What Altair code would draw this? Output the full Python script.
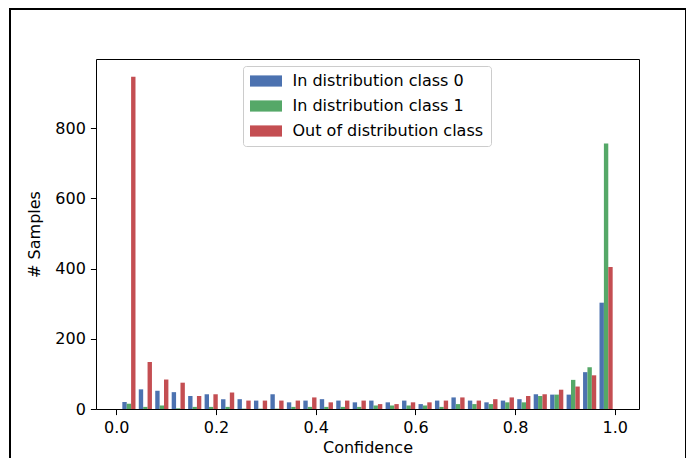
import altair as alt
import pandas as pd

# ---- data ----
series = ["In distribution class 0", "In distribution class 1", "Out of distribution class"]
colors = ["#4C72B0", "#55A868", "#C44E52"]
bin_lo, bin_hi, n_bins = 0.009, 0.999, 30

class0 = [20, 56, 52, 48, 37, 42, 28, 28, 24, 42, 19, 24, 28, 24, 19,
          24, 19, 24, 14, 24, 33, 24, 19, 24, 28, 42, 41, 41, 105, 303]
class1 = [15, 6, 10, 2, 6, 6, 6, 1, 1, 1, 6, 6, 6, 6, 6,
          10, 10, 10, 10, 6, 14, 14, 14, 19, 19, 37, 41, 83, 119, 757]
ood = [947, 134, 84, 75, 37, 42, 47, 24, 24, 24, 24, 33, 19, 24, 24,
       14, 14, 19, 19, 24, 33, 24, 28, 33, 37, 42, 55, 64, 96, 405]

x_ticks = [0.0, 0.2, 0.4, 0.6, 0.8, 1.0]
y_ticks = [0, 200, 400, 600, 800]

# ---- build grouped-histogram table (matplotlib style: 80% of bin, split in 3) ----
w = (bin_hi - bin_lo) / n_bins
bw = 0.8 * w / 3
rows = []
for s, (name, counts) in enumerate(zip(series, [class0, class1, ood])):
    for i, c in enumerate(counts):
        x0 = bin_lo + i * w + 0.1 * w + s * bw
        rows.append({"series": name, "x0": x0, "x1": x0 + bw, "count": c, "base": 0})
df = pd.DataFrame(rows)

FONT = "DejaVu Sans"

bars = alt.Chart(df).mark_bar().encode(
    x=alt.X("x0:Q",
            scale=alt.Scale(domain=[-0.0405, 1.0485], nice=False, zero=False),
            axis=alt.Axis(values=x_ticks, format=".1f", title="Confidence",
                          titlePadding=4)),
    x2="x1:Q",
    y=alt.Y("count:Q",
            scale=alt.Scale(domain=[0, 997.5], nice=False),
            axis=alt.Axis(values=y_ticks, title="# Samples", titlePadding=12)),
    y2="base:Q",
    color=alt.Color("series:N",
                    scale=alt.Scale(domain=series, range=colors),
                    legend=alt.Legend(
                        title=None, orient="none", legendX=147, legendY=7,
                        padding=7, symbolType="M-2,-0.7H2V0.7H-2Z",
                        symbolSize=256, symbolStrokeWidth=0, symbolOffset=8,
                        labelOffset=18.5, labelFontSize=16, labelFont=FONT,
                        labelColor="black", labelLimit=400, rowPadding=9,
                        strokeColor="#cccccc", fillColor="white",
                        cornerRadius=3)),
)

dummy = pd.DataFrame({"k": [0]})
left_border = alt.Chart(dummy).mark_rule(color="black", strokeWidth=2).encode(
    x=alt.value(-86), y=alt.value(-51), y2=alt.value(400))
top_border = alt.Chart(dummy).mark_rule(color="black", strokeWidth=2).encode(
    x=alt.value(-87), x2=alt.value(590), y=alt.value(-50))
right_border = alt.Chart(dummy).mark_rule(color="black", strokeWidth=1).encode(
    x=alt.value(589.5), y=alt.value(-51), y2=alt.value(400))

chart = alt.layer(bars, left_border, top_border, right_border).properties(
    width=543, height=350,
    autosize=alt.AutoSizeParams(type="none"),
    padding={"left": 88, "top": 51, "right": 48, "bottom": 49},
).configure_view(
    stroke="black", strokeWidth=1
).configure_axis(
    domain=False, grid=False, tickColor="black", tickSize=5.6, tickWidth=1,
    labelColor="black", labelFontSize=16, labelFont=FONT, labelPadding=5,
    titleColor="black", titleFontSize=16, titleFont=FONT, titleFontWeight="normal",
)

chart.save("out.html", embed_options={"renderer": "svg", "actions": False})
